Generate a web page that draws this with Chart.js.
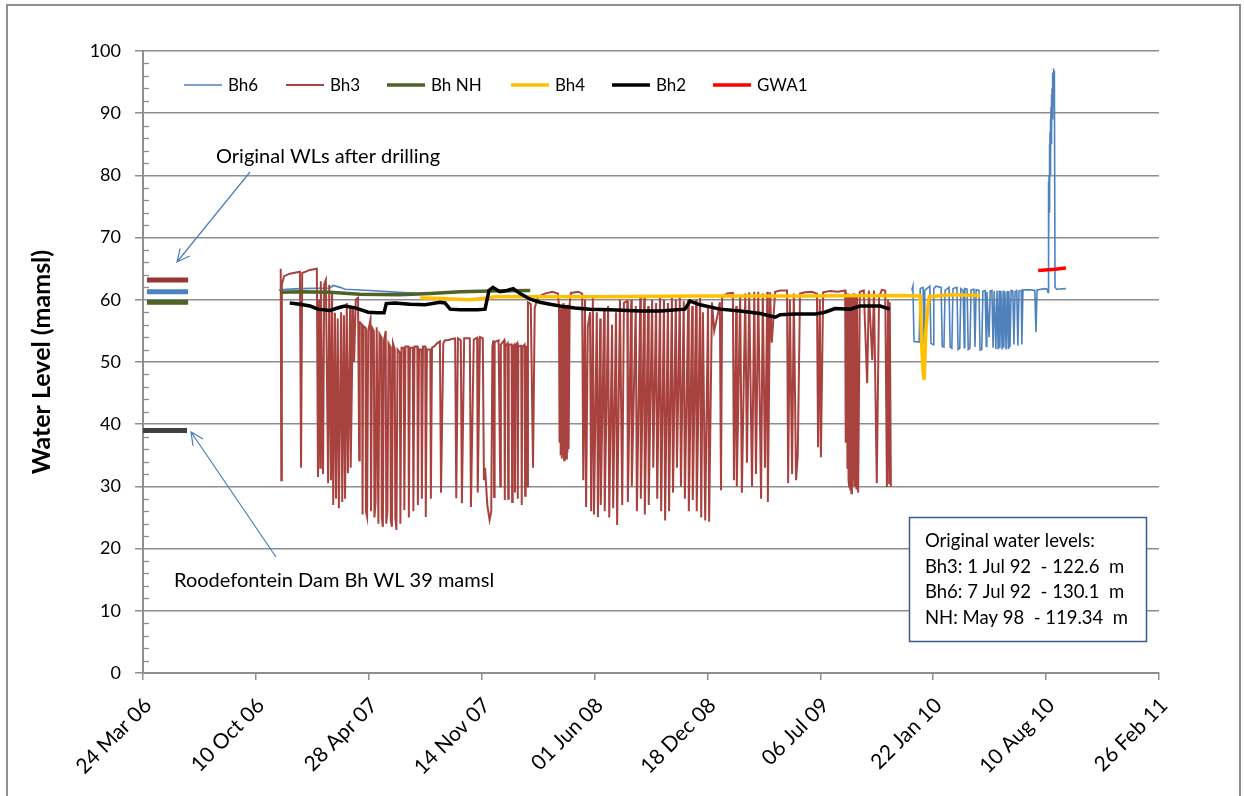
<!DOCTYPE html>
<html>
<head>
<meta charset="utf-8">
<script src="https://cdn.jsdelivr.net/npm/chart.js@4.4.1/dist/chart.umd.min.js"></script>
<style>
  html, body { margin: 0; padding: 0; background: #fff; }
  .frame { position: relative; width: 1244px; height: 796px; overflow: hidden; }
  .frame::after {
    content: ""; position: absolute; left: 6px; top: 4px; right: 3px; bottom: -10px;
    border: 2px solid #8e8e8e; pointer-events: none;
  }
  canvas { display: block; }
</style>
</head>
<body>
<div class="frame"><canvas id="wl" width="1244" height="796"></canvas></div>
<script>
// Borehole water levels, x = Excel date serial, y = mamsl
const bh6 = [
  [39041, 61.6], [39078, 61.8], [39131, 61.9], [39137, 62.3], [39149, 62.0], [39158, 61.7], [39202, 61.5], [39255, 61.2], [39291, 61.0],
  [39300, null],
  [40162, 61.5], [40164, 62.2], [40166, 53.3], [40175, 53.2], [40177, 61.8], [40182, 62.0], [40184, 53.0], [40185, 61.5], [40194, 62.2],
  [40196, 53.0], [40200, 52.8], [40201, 61.8], [40205, 62.2], [40214, 62.0], [40216, 52.5], [40219, 52.4], [40221, 61.5], [40228, 62.0],
  [40230, 52.4], [40233, 52.2], [40235, 61.8], [40242, 62.0], [40244, 52.0], [40247, 52.2], [40249, 61.8], [40253, 61.5], [40255, 52.3],
  [40256, 61.8], [40260, 61.7], [40262, 52.0], [40265, 52.2], [40267, 61.6], [40272, 61.7], [40274, 52.4], [40276, 61.6], [40281, 61.5],
  [40283, 51.9], [40286, 52.0], [40288, 61.4], [40292, 61.5], [40294, 52.5], [40295, 61.3], [40299, 54.0], [40301, 61.4], [40304, 61.5],
  [40306, 52.3], [40308, 61.4], [40311, 52.1], [40313, 61.5], [40315, 52.0], [40317, 61.5], [40318, 52.2], [40320, 61.4], [40322, 52.0],
  [40324, 61.5], [40325, 52.3], [40327, 61.3], [40329, 52.0], [40331, 61.4], [40333, 52.2], [40334, 61.4], [40336, 52.4], [40338, 61.5],
  [40341, 61.4], [40343, 52.8], [40345, 61.3], [40348, 61.5], [40350, 52.6], [40352, 61.4], [40356, 61.5], [40357, 52.8], [40359, 61.6],
  [40372, 61.6], [40380, 61.5], [40382, 54.8], [40384, 61.6], [40398, 61.8], [40402, 61.7], [40403.4, 61.2], [40403.9, 72], [40404.3, 79],
  [40404.8, 68], [40405.2, 80], [40405.7, 74], [40406.1, 85], [40406.6, 77], [40407.0, 87], [40407.4, 80], [40407.8, 89], [40408.3, 83],
  [40408.7, 91], [40409.2, 85], [40409.6, 93], [40410.1, 87], [40410.5, 94], [40411.0, 89], [40411.4, 95.5], [40411.8, 91], [40412.2, 96.5],
  [40412.7, 92], [40413.1, 97.2], [40413.6, 94], [40414.0, 96.8], [40414.5, 91], [40414.9, 95], [40415.8, 62], [40419, 61.7], [40435, 61.8]
];

const bh3 = [
  [39044, 65.0], [39045, 31.0], [39046, 62.5], [39050, 63.8], [39060, 64.2], [39078, 64.5], [39080, 33.0], [39082, 64.3], [39096, 64.8],
  [39108, 65.0], [39110, 31.5], [39112, 60.0], [39114, 33.0], [39115, 63.0], [39119, 32.0], [39121, 62.5], [39124, 63.2], [39128, 30.5],
  [39130, 62.4], [39133, 31.0], [39135, 61.0], [39137, 27.0], [39140, 57.9], [39142, 28.0], [39145, 57.0], [39147, 26.5], [39151, 58.0],
  [39153, 27.5], [39156, 57.5], [39158, 28.0], [39161, 59.5], [39163, 32.1], [39167, 59.0], [39168, 33.0], [39172, 58.8], [39174, 50.0],
  [39177, 60.0], [39181, 60.3], [39183, 34.2], [39184, 56.4], [39188, 56.0], [39189, 25.5], [39190, 55.8], [39194, 55.5], [39195, 26.0],
  [39197, 25.1], [39199, 55.0], [39203, 56.8], [39204, 26.0], [39206, 55.5], [39209, 55.0], [39210, 25.0], [39212, 27.5], [39214, 55.6],
  [39217, 24.0], [39219, 54.5], [39222, 54.0], [39223, 25.0], [39225, 23.5], [39227, 53.5], [39230, 55.0], [39231, 24.0], [39233, 26.0],
  [39235, 53.0], [39238, 52.5], [39239, 24.5], [39241, 23.5], [39243, 53.0], [39246, 52.0], [39247, 25.0], [39249, 23.0], [39251, 52.0],
  [39255, 51.5], [39256, 24.0], [39258, 52.3], [39262, 52.3], [39263, 26.2], [39265, 52.5], [39270, 52.5], [39271, 25.0], [39273, 52.3],
  [39278, 52.3], [39279, 26.0], [39281, 52.5], [39286, 52.5], [39287, 27.0], [39289, 52.0], [39293, 52.0], [39294, 28.0], [39296, 52.5],
  [39300, 52.5], [39301, 25.1], [39303, 52.0], [39309, 52.0], [39310, 28.0], [39312, 52.3], [39316, 52.5], [39321, 53.0], [39326, 53.3],
  [39328, 29.0], [39332, 53.0], [39335, 53.5], [39340, 53.5], [39347, 53.7], [39353, 53.8], [39355, 28.1], [39358, 53.8], [39363, 53.5],
  [39365, 27.3], [39369, 53.8], [39374, 53.8], [39379, 53.8], [39381, 26.7], [39386, 53.6], [39392, 53.9], [39393, 29.0], [39397, 54.0],
  [39402, 53.8], [39404, 31.0], [39406, 33.0], [39410, 27.0], [39414, 24.6], [39417, 26.0], [39419, 52.5], [39421, 53.5], [39422, 28.3],
  [39423, 53.2], [39430, 53.5], [39433, 30.0], [39434, 52.8], [39440, 53.5], [39441, 27.8], [39442, 52.5], [39446, 53.0], [39447, 28.0],
  [39448, 52.8], [39453, 52.8], [39454, 27.5], [39455, 52.5], [39458, 52.8], [39459, 29.0], [39460, 52.6], [39463, 53.0], [39464, 28.0],
  [39465, 52.5], [39470, 52.6], [39471, 27.0], [39472, 52.4], [39476, 52.8], [39477, 28.5], [39478, 52.5], [39480, 52.4], [39481, 30.0],
  [39482, 59.6], [39487, 59.3], [39491, 33.0], [39494, 58.7], [39500, 60.5], [39512, 61.0], [39525, 61.3], [39535, 61.0], [39537, 59.0],
  [39538, 37.0], [39539, 58.5], [39540, 35.0], [39541, 59.0], [39542, 34.5], [39543, 58.8], [39544, 35.0], [39545, 59.5], [39546, 34.2],
  [39547, 58.8], [39548, 36.0], [39549, 59.0], [39550, 34.5], [39551, 58.5], [39552, 35.5], [39553, 59.2], [39554, 36.0], [39556, 59.5],
  [39558, 61.1], [39571, 61.3], [39578, 61.0], [39580, 31.0], [39583, 60.0], [39585, 26.7], [39588, 55.6], [39592, 58.0], [39594, 26.0],
  [39597, 60.3], [39599, 25.5], [39604, 58.0], [39606, 25.1], [39610, 57.0], [39611, 27.0], [39617, 58.5], [39618, 26.0], [39624, 59.0],
  [39626, 25.0], [39631, 56.0], [39633, 26.5], [39638, 58.0], [39640, 23.8], [39645, 60.0], [39649, 27.0], [39652, 59.5], [39658, 59.8],
  [39659, 27.5], [39665, 60.0], [39666, 30.0], [39673, 59.0], [39675, 26.0], [39681, 60.5], [39682, 28.0], [39688, 60.3], [39689, 25.5],
  [39695, 59.0], [39696, 27.0], [39702, 60.0], [39704, 33.0], [39709, 59.5], [39711, 28.0], [39716, 60.3], [39718, 26.0], [39723, 60.0],
  [39725, 24.5], [39730, 59.5], [39732, 26.0], [39737, 60.3], [39739, 29.0], [39744, 60.0], [39746, 33.0], [39751, 60.5], [39753, 30.0],
  [39758, 59.8], [39760, 28.0], [39766, 60.0], [39767, 26.0], [39773, 59.0], [39774, 27.8], [39780, 60.0], [39781, 26.0], [39787, 60.3],
  [39789, 25.0], [39792, 58.0], [39796, 24.5], [39801, 59.0], [39803, 24.3], [39808, 59.6], [39812, 55.0], [39819, 58.0], [39822, 59.6],
  [39824, 29.4], [39826, 60.5], [39835, 61.0], [39845, 61.1], [39847, 31.0], [39851, 59.0], [39852, 30.0], [39858, 60.8], [39861, 29.0],
  [39867, 61.0], [39870, 33.8], [39874, 61.2], [39879, 30.0], [39883, 61.3], [39886, 32.0], [39890, 61.3], [39895, 28.0], [39898, 61.0],
  [39902, 33.0], [39906, 61.3], [39907, 27.5], [39911, 61.2], [39914, 53.1], [39920, 61.3], [39929, 61.5], [39941, 61.5], [39943, 30.5],
  [39946, 60.0], [39950, 32.0], [39953, 61.0], [39957, 31.0], [39960, 35.0], [39964, 61.0], [39973, 61.2], [39985, 61.3], [39994, 61.0],
  [39996, 36.3], [39999, 60.0], [40001, 34.7], [40005, 61.2], [40017, 61.4], [40031, 61.3], [40044, 61.5], [40045, 37.0], [40047, 61.0],
  [40048, 33.0], [40049, 61.0], [40050, 31.0], [40051, 30.0], [40052, 60.5], [40053, 29.5], [40054, 60.5], [40055, 28.9], [40056, 60.8],
  [40057, 30.0], [40058, 61.0], [40059, 31.0], [40060, 61.0], [40061, 30.0], [40063, 60.5], [40064, 29.5], [40065, 60.5], [40067, 29.0],
  [40070, 61.3], [40077, 61.5], [40083, 46.6], [40086, 61.5], [40092, 50.3], [40095, 61.5], [40100, 30.5], [40104, 60.5], [40109, 61.6],
  [40115, 61.5], [40118, 29.9], [40120, 60.0], [40122, 30.5], [40123, 59.6], [40125, 30.0]
];

const bhNH = [
  [39043, 61.2], [39078, 61.3], [39131, 61.2], [39184, 60.9], [39255, 60.8], [39309, 61.0], [39362, 61.3], [39415, 61.4], [39486, 61.5]
];

const bh4 = [
  [39291, 60.3], [39326, 60.2], [39379, 60.0], [39410, 60.3], [39424, 60.5], [39486, 60.5], [39610, 60.5], [39787, 60.6], [39964, 60.6],
  [40141, 60.7], [40177, 60.6], [40180, 52.0], [40182, 48.5], [40184, 47.1], [40187, 55.0], [40190, 58.5], [40193, 60.5], [40230, 60.8],
  [40283, 60.7]
];

const bh2 = [
  [39060, 59.5], [39078, 59.3], [39096, 59.0], [39110, 58.5], [39131, 58.3], [39149, 58.8], [39158, 59.0], [39176, 58.7], [39199, 58.0],
  [39216, 57.9], [39227, 57.9], [39231, 59.4], [39246, 59.5], [39273, 59.3], [39300, 59.2], [39326, 59.6], [39335, 59.5], [39344, 58.5],
  [39362, 58.4], [39393, 58.4], [39406, 58.5], [39413, 61.5], [39420, 62.0], [39432, 61.3], [39445, 61.5], [39456, 61.8], [39468, 61.0],
  [39486, 60.1], [39503, 59.6], [39521, 59.3], [39539, 59.0], [39565, 58.7], [39592, 58.5], [39627, 58.4], [39681, 58.2], [39716, 58.2],
  [39760, 58.5], [39769, 59.8], [39787, 59.2], [39822, 58.5], [39858, 58.2], [39893, 57.8], [39920, 57.2], [39929, 57.6], [39955, 57.7],
  [39991, 57.7], [40008, 58.0], [40026, 58.6], [40053, 58.5], [40070, 59.0], [40106, 59.0], [40123, 58.5]
];

const gwa1 = [[40386, 64.7], [40398, 64.8], [40416, 64.9], [40435, 65.1]];

// Levels right after drilling (Bh3, Bh6, Bh NH) and the dam borehole level
const drillingLevels = [63.2, 61.3, 59.6];
const drillingColors = ['#953735', '#4F81BD', '#4F6228'];
const damLevel = 39;
const markerSpan = [38807, 38880];

const xTicks = { min: 38800, max: 40600, step: 200 };
const yTicks = { min: 0, max: 100, step: 10 };

const noteLines = [
  'Original water levels:',
  'Bh3: 1 Jul 92  - 122.6  m',
  'Bh6: 7 Jul 92  - 130.1  m',
  'NH: May 98  - 119.34  m'
];

const FONT = 'Lato, "Open Sans", sans-serif';
const MONTHS = ['Jan', 'Feb', 'Mar', 'Apr', 'May', 'Jun', 'Jul', 'Aug', 'Sep', 'Oct', 'Nov', 'Dec'];

function serialLabel(serial) {
  const d = new Date(Date.UTC(1899, 11, 30) + serial * 86400000);
  return String(d.getUTCDate()).padStart(2, '0') + ' ' + MONTHS[d.getUTCMonth()] + ' ' + String(d.getUTCFullYear()).slice(2);
}

const pts = arr => arr.map(([x, y]) => ({ x, y }));

function series(label, data, color, width, order) {
  return {
    label, data: pts(data), borderColor: color, backgroundColor: color,
    borderWidth: width, pointRadius: 0, tension: 0, spanGaps: false,
    order, inLegend: true
  };
}

function marker(level, color) {
  return {
    label: '', data: markerSpan.map(x => ({ x, y: level })), borderColor: color,
    borderWidth: 5, borderCapStyle: 'butt', pointRadius: 0, order: 0, inLegend: false
  };
}

const datasets = [
  series('Bh6', bh6, '#4F81BD', 1.6, 6),
  series('Bh3', bh3, '#A8423F', 2, 5),
  series('Bh NH', bhNH, '#4F6228', 3.5, 4),
  series('Bh4', bh4, '#FFC000', 3.5, 3),
  series('Bh2', bh2, '#000000', 3.5, 2),
  series('GWA1', gwa1, '#FF0000', 3.5, 1),
  ...drillingLevels.map((v, i) => marker(v, drillingColors[i])),
  { ...marker(damLevel, '#404040'), data: [{ x: xTicks.min, y: damLevel }, { x: markerSpan[1] - 2, y: damLevel }] }
];

function arrow(ctx, x1, y1, x2, y2) {
  const a = Math.atan2(y2 - y1, x2 - x1);
  const h = 14, spread = 0.45;
  ctx.beginPath();
  ctx.moveTo(x1, y1);
  ctx.lineTo(x2, y2);
  ctx.moveTo(x2 - h * Math.cos(a - spread), y2 - h * Math.sin(a - spread));
  ctx.lineTo(x2, y2);
  ctx.lineTo(x2 - h * Math.cos(a + spread), y2 - h * Math.sin(a + spread));
  ctx.stroke();
}

const legendSlots = [184, 286, 387, 511, 612, 713];

const overlay = {
  id: 'overlay',
  afterDraw(chart) {
    const ctx = chart.ctx;
    const y = chart.scales.y;
    const axisX = chart.chartArea.left;

    // minor ticks inside the value axis
    ctx.save();
    ctx.strokeStyle = '#8e8e8e';
    ctx.lineWidth = 1.3;
    for (let v = yTicks.min; v <= yTicks.max; v += 2) {
      if (v % 10 === 0) continue;
      const py = Math.round(y.getPixelForValue(v)) + 0.5;
      ctx.beginPath();
      ctx.moveTo(axisX, py);
      ctx.lineTo(axisX + 6, py);
      ctx.stroke();
    }

    // legend inside the plot
    ctx.font = '17px ' + FONT;
    ctx.textBaseline = 'middle';
    ctx.fillStyle = '#000';
    chart.data.datasets.filter(d => d.inLegend).forEach((d, i) => {
      const lx = legendSlots[i];
      ctx.strokeStyle = d.borderColor;
      ctx.lineWidth = d.borderWidth;
      ctx.beginPath();
      ctx.moveTo(lx, 85);
      ctx.lineTo(lx + 38, 85);
      ctx.stroke();
      ctx.fillText(d.label, lx + 44, 86);
    });

    // callouts
    ctx.font = '20px ' + FONT;
    ctx.fillText('Original WLs after drilling', 216, 157);
    ctx.fillText('Roodefontein Dam Bh WL 39 mamsl', 174, 581);
    ctx.strokeStyle = '#4A7EBB';
    ctx.lineWidth = 1.2;
    arrow(ctx, 250, 172, 177, 262);
    arrow(ctx, 276, 557, 191, 432);

    // note box
    ctx.fillStyle = '#fff';
    ctx.fillRect(909, 517, 237, 124);
    ctx.strokeStyle = '#385D8A';
    ctx.lineWidth = 1.5;
    ctx.strokeRect(909.5, 517.5, 237, 124);
    ctx.fillStyle = '#000';
    ctx.font = '18.5px ' + FONT;
    noteLines.forEach((t, i) => ctx.fillText(t, 925, 541 + i * 25.7));
    ctx.restore();
  }
};

new Chart(document.getElementById('wl'), {
  type: 'line',
  data: { datasets },
  options: {
    responsive: false,
    animation: false,
    layout: { padding: { top: 51, right: 85, left: 0, bottom: 0 } },
    plugins: { legend: { display: false }, tooltip: { enabled: false } },
    scales: {
      x: {
        type: 'linear',
        min: xTicks.min, max: xTicks.max,
        afterFit: s => { s.height = 123; },
        afterBuildTicks: s => {
          s.ticks = [];
          for (let v = xTicks.min; v <= xTicks.max; v += xTicks.step) s.ticks.push({ value: v });
        },
        ticks: {
          autoSkip: false, maxRotation: 45, minRotation: 45, padding: 13, labelOffset: 5,
          color: '#000', font: { family: FONT, size: 21 },
          callback: v => serialLabel(v)
        },
        grid: { drawOnChartArea: false, color: '#8e8e8e', lineWidth: 1.5, tickLength: 7 },
        border: { color: '#8e8e8e', width: 2 }
      },
      y: {
        min: yTicks.min, max: yTicks.max,
        afterFit: s => { s.width = 143; },
        ticks: { stepSize: yTicks.step, padding: 14, color: '#000', font: { family: FONT, size: 18 } },
        grid: { color: '#8e8e8e', lineWidth: 1.5, tickLength: 8 },
        border: { color: '#8e8e8e', width: 2 },
        title: {
          display: true, text: 'Water Level (mamsl)', color: '#000',
          font: { family: FONT, size: 25, weight: 'bold' }, padding: { top: 27, bottom: 0 }
        }
      }
    }
  },
  plugins: [overlay]
});
</script>
</body>
</html>
